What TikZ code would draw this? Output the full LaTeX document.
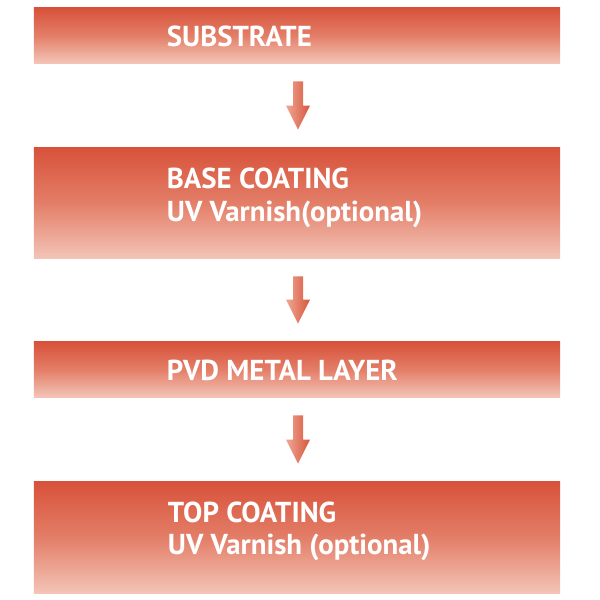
\documentclass[tikz,border=0pt]{standalone}
\usepackage{fontspec}
\usepackage{tikz}
\usetikzlibrary{calc,positioning}
\newfontfamily\layerfont{PT Sans}
\definecolor{layertop}{RGB}{216,82,58}
\definecolor{layermid}{RGB}{227,126,104}
\definecolor{layerbot}{RGB}{243,196,182}
\definecolor{flowlight}{RGB}{238,168,148}
\definecolor{flowdark}{RGB}{216,84,60}
\tikzset{layer/.style={top color=layertop,bottom color=layerbot,middle color=layermid,draw=none,
    minimum width=13.15cm,inner sep=0pt},
  tag/.style={anchor=west,inner sep=0pt,align=left,text=white,
    font=\layerfont\bfseries\fontsize{20.5}{23}\selectfont},
  flow/.style={left color=flowlight,right color=flowdark,draw=none}}

\begin{document}
\begin{tikzpicture}[x=0.025cm,y=-0.025cm]
\useasboundingbox (0,0) rectangle (600,600);
\node[layer,minimum height=1.375cm] (sub) at (297,35.5) {};
\node[layer,minimum height=2.75cm] (base) at (297,203) {};
\node[layer,minimum height=1.375cm] (pvd) at (297,369.5) {};
\node[layer,minimum height=2.775cm] (top) at (297,537.5) {};
\node[tag] (subtag) at ($(sub.west)+(133,1)$) {SUBSTRATE};
\node[tag] (basetag) at ($(base.west)+(133,-5)$) {BASE COATING\\UV Varnish(optional)};
\node[tag] (pvdtag) at ($(pvd.west)+(133,1)$) {PVD METAL LAYER};
\node[tag] (toptag) at ($(top.west)+(134,-6)$) {TOP COATING\\UV Varnish (optional)};
\foreach \a/\b in {sub/base,base/pvd,pvd/top}
  \path[flow] ($(\a.south)+(-4,18)$) -- ($(\a.south)+(6,18)$) -- ($(\b.north)+(6,-42)$) -- ($(\b.north)+(13,-42)$)
    -- ($(\b.north)+(1,-18)$) -- ($(\b.north)+(-11,-42)$) -- ($(\b.north)+(-4,-42)$) -- cycle;
\end{tikzpicture}
\end{document}
